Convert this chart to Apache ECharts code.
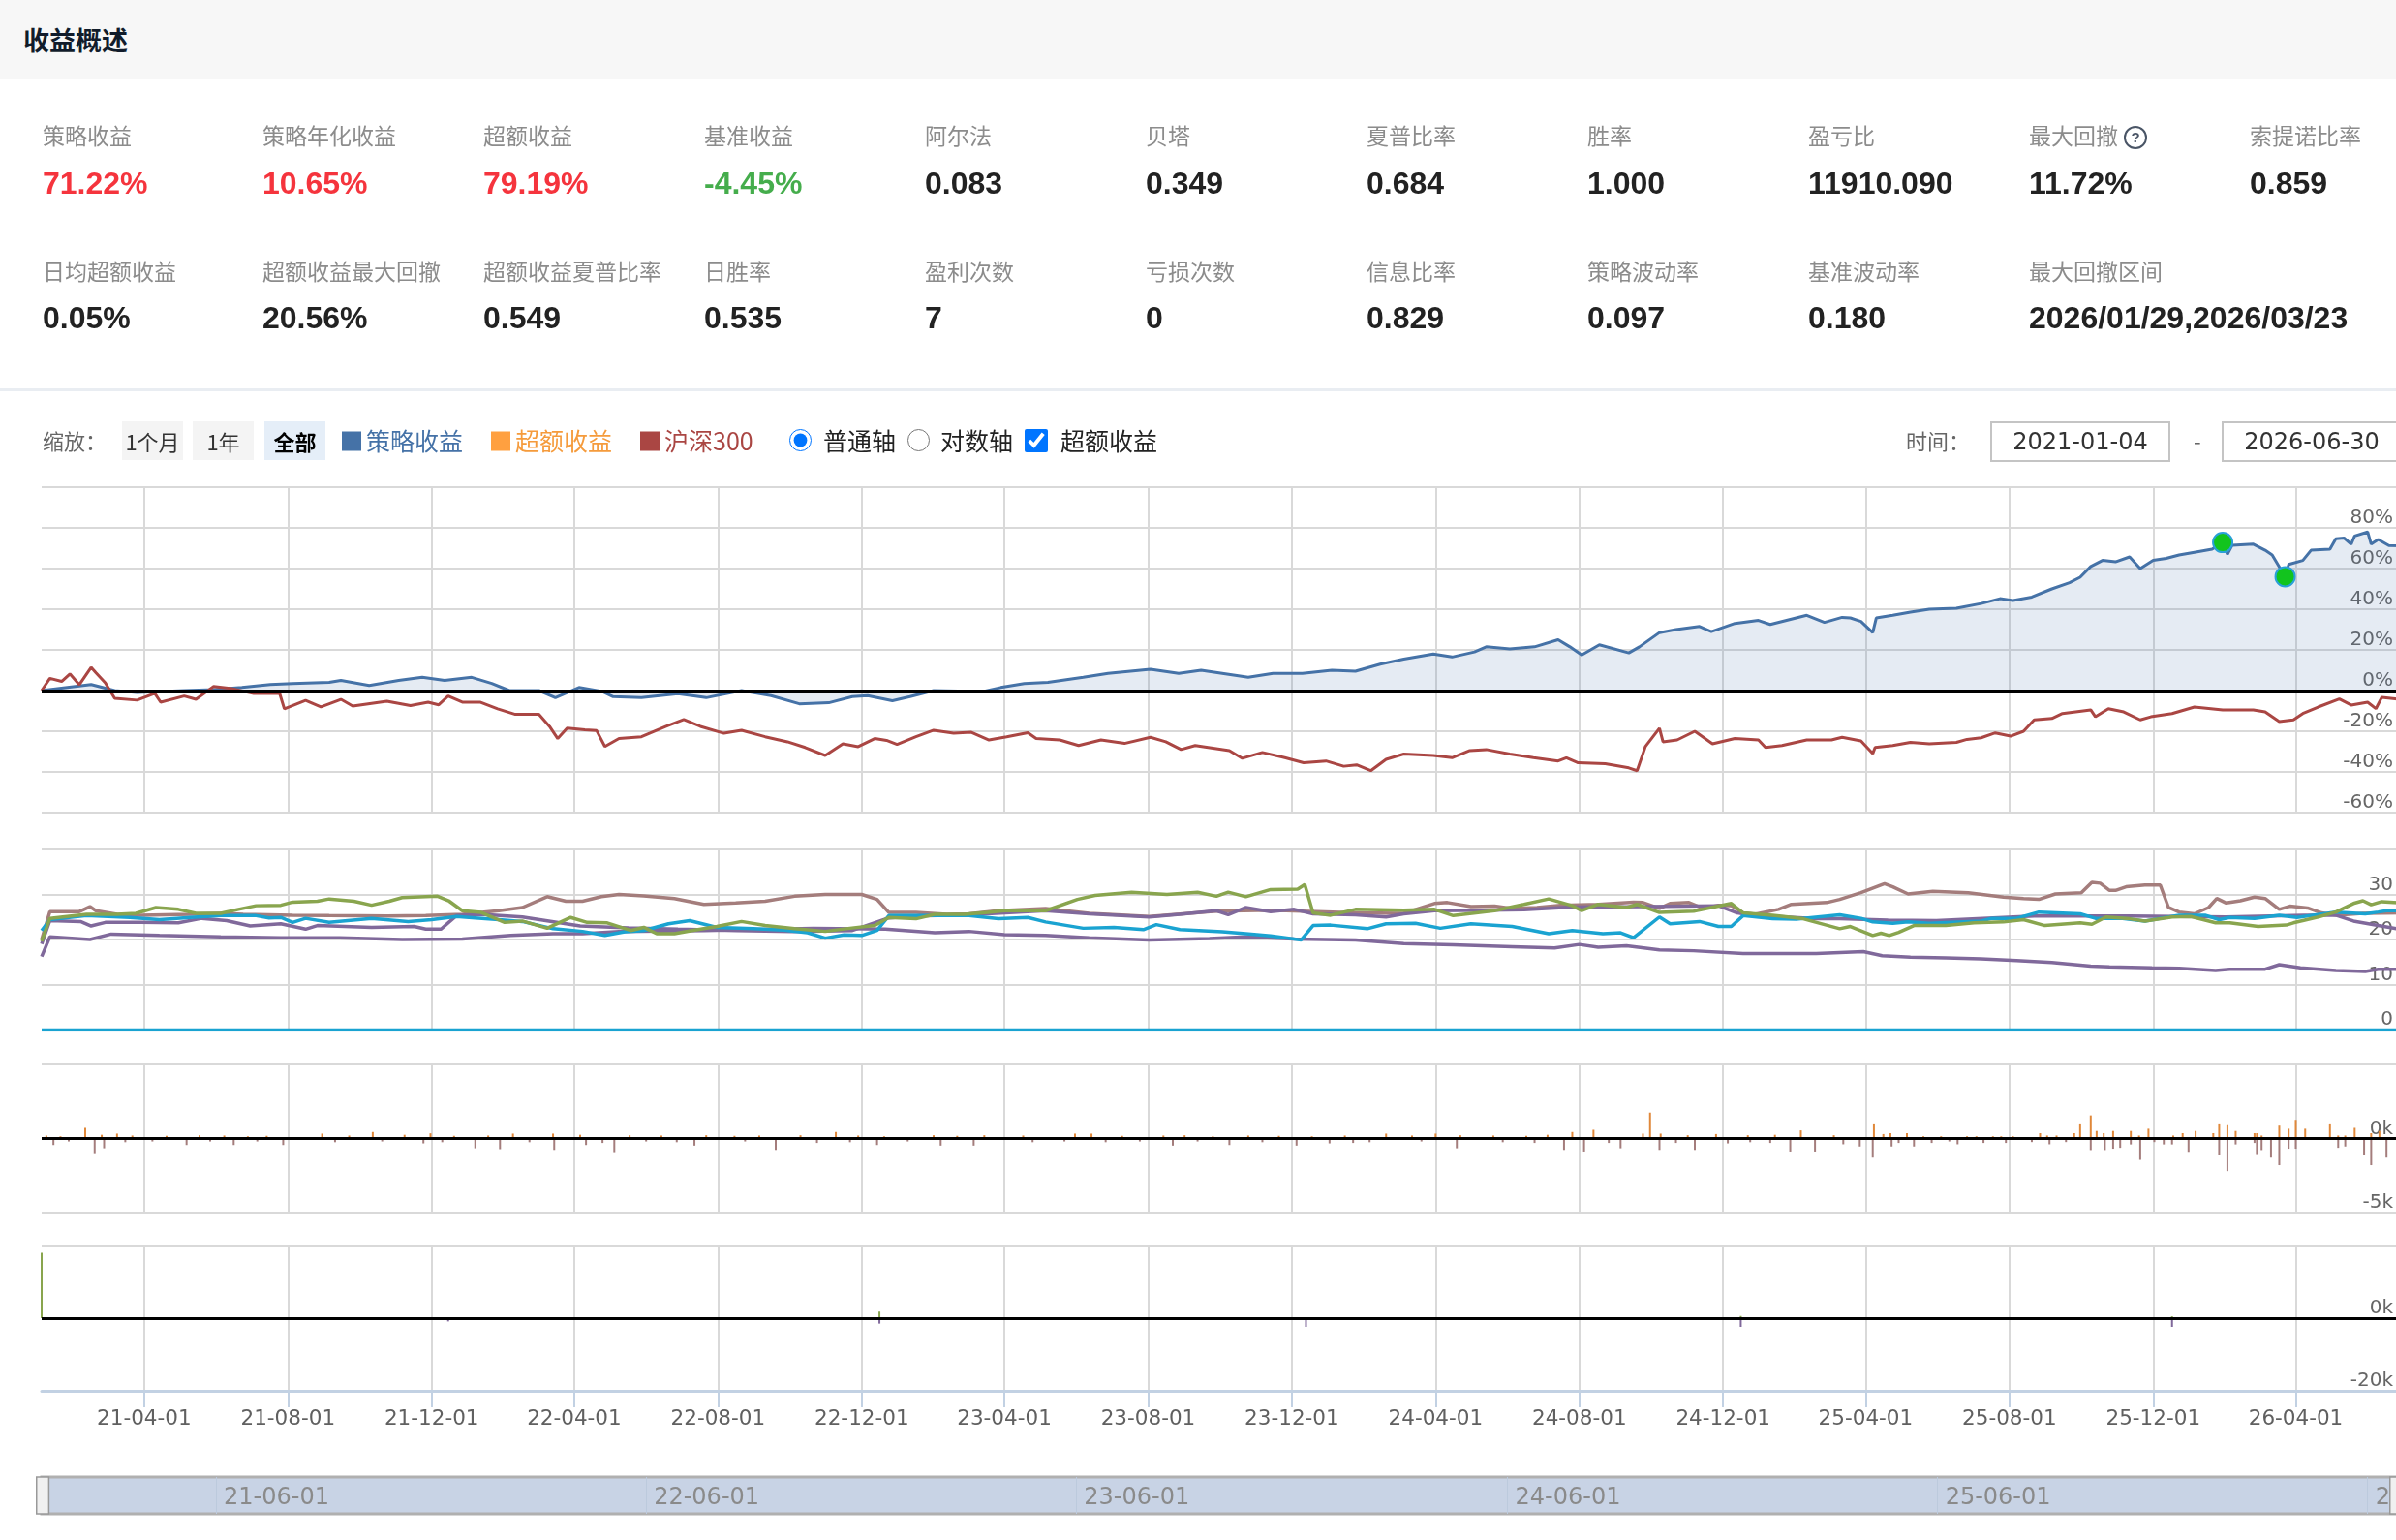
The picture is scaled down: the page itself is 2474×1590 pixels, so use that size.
<!DOCTYPE html>
<html>
<head>
<meta charset="utf-8">
<title>收益概述</title>
<script src="https://cdn.jsdelivr.net/npm/echarts@6/dist/echarts.min.js"></script>
<style>
html, body { margin: 0; padding: 0; width: 2474px; height: 1590px; overflow: hidden; background: #fff; }
body { position: relative; font-family: "Noto Sans CJK SC", "Liberation Sans", sans-serif; }
.abs { position: absolute; white-space: nowrap; }
#head { left: 0; top: 0; width: 2474px; height: 82px; background: #f7f7f7; }
#head span { position: absolute; left: 24px; top: 0; line-height: 82px; font-size: 27px; font-weight: bold; color: #111c2b; }
#sep { left: 0; top: 401px; width: 2474px; height: 3px; background: #e9edf2; }
.lab { font-size: 23px; line-height: 30px; color: #8c8c8c; }
.val { font-family: "Liberation Sans", sans-serif; font-weight: bold; font-size: 32px; line-height: 40px; color: #222; }
.qm { display: inline-block; width: 20px; height: 20px; border: 2px solid #4a5566; border-radius: 50%; font: bold 15px/20px "Liberation Sans"; text-align: center; color: #4a5566; margin-left: 6px; vertical-align: 2px; }
.tool { font-size: 22px; line-height: 40px; color: #666; }
.btn { top: 435px; height: 40px; line-height: 40px; text-align: center; font-size: 22px; color: #333; background: #f4f4f4; }
.btn.on { background: #e5eef8; color: #000; font-weight: bold; }
.opt { font-size: 25px; line-height: 40px; color: #222; top: 434px; }
.box { top: 435px; height: 38px; line-height: 38px; border: 2px solid #c4c4c4; text-align: center; font-family: "DejaVu Sans"; font-size: 24px; color: #333; }
input.ctl { position: absolute; margin: 0; }
#chart { position: absolute; left: 0; top: 0; width: 2480px; height: 1590px; }
</style>
</head>
<body>
<div id="head" class="abs"><span>收益概述</span></div>
<div id="chart"></div>
<div id="sep" class="abs"></div>
<div id="stats"></div>

<div class="abs tool" style="left:44px;top:434px;">缩放：</div>
<div class="abs btn" style="left:126px;width:63px;">1个月</div>
<div class="abs btn" style="left:199px;width:63px;">1年</div>
<div class="abs btn on" style="left:273px;width:63px;">全部</div>
<input class="ctl" type="radio" name="ax" checked style="left:815px;top:443px;width:23px;height:23px;">
<div class="abs opt" style="left:850px;">普通轴</div>
<input class="ctl" type="radio" name="ax" style="left:937px;top:443px;width:23px;height:23px;">
<div class="abs opt" style="left:971px;">对数轴</div>
<input class="ctl" type="checkbox" checked style="left:1058px;top:443px;width:24px;height:24px;">
<div class="abs opt" style="left:1095px;">超额收益</div>
<div class="abs tool" style="left:1968px;top:434px;">时间：</div>
<div class="abs box" style="left:2055px;width:182px;">2021-01-04</div>
<div class="abs tool" style="left:2265px;top:434px;">-</div>
<div class="abs box" style="left:2294px;width:182px;">2026-06-30</div>

<script>
// 统计指标
var statLabels1 = ['策略收益', '策略年化收益', '超额收益', '基准收益', '阿尔法', '贝塔', '夏普比率', '胜率', '盈亏比', '最大回撤', '索提诺比率'];
var statValues1 = ['71.22%', '10.65%', '79.19%', '-4.45%', '0.083', '0.349', '0.684', '1.000', '11910.090', '11.72%', '0.859'];
var statLabels2 = ['日均超额收益', '超额收益最大回撤', '超额收益夏普比率', '日胜率', '盈利次数', '亏损次数', '信息比率', '策略波动率', '基准波动率', '最大回撤区间'];
var statValues2 = ['0.05%', '20.56%', '0.549', '0.535', '7', '0', '0.829', '0.097', '0.180', '2026/01/29,2026/03/23'];

// 横轴刻度
var xTickDates = ['2021-04-01', '2021-08-01', '2021-12-01', '2022-04-01', '2022-08-01', '2022-12-01', '2023-04-01', '2023-08-01',
    '2023-12-01', '2024-04-01', '2024-08-01', '2024-12-01', '2025-04-01', '2025-08-01', '2025-12-01', '2026-04-01'];
var navTickDates = ['2021-06-01', '2022-06-01', '2023-06-01', '2024-06-01', '2025-06-01', '2026-06-01'];
var startDate = '2021-01-04';
var endDate = '2026-06-30';
var drawdownDates = ['2026-01-29', '2026-03-23'];

// 策略收益 (%)
var strategyRet = [
    ['2021-01-04', 0], ['2021-02-15', 3], ['2021-03-07', 0], ['2021-03-26', -1], ['2021-05-05', 0], ['2021-05-30', 0.5],
    ['2021-06-23', 1.5], ['2021-07-17', 3], ['2021-08-05', 3.5], ['2021-09-05', 4], ['2021-09-15', 5], ['2021-10-09', 2.5],
    ['2021-11-03', 5], ['2021-11-23', 6.5], ['2021-12-12', 5], ['2022-01-04', 6.5], ['2022-01-21', 3.5], ['2022-02-05', 0],
    ['2022-03-02', 0], ['2022-03-16', -3.5], ['2022-04-05', 1.5], ['2022-04-25', -0.5], ['2022-05-04', -3], ['2022-05-28', -3.5],
    ['2022-06-28', -1.5], ['2022-07-22', -3.5], ['2022-08-21', 0], ['2022-09-15', -2.5], ['2022-10-09', -6.5], ['2022-11-03', -6],
    ['2022-11-23', -3], ['2022-12-06', -2.5], ['2022-12-27', -5], ['2023-01-11', -3], ['2023-01-31', 0], ['2023-03-14', -0.5],
    ['2023-03-29', 1.5], ['2023-04-18', 3.5], ['2023-05-08', 4], ['2023-06-07', 6.5], ['2023-06-28', 8.5], ['2023-08-03', 10.5],
    ['2023-08-27', 8.5], ['2023-09-15', 10], ['2023-10-25', 6.5], ['2023-11-15', 8.5], ['2023-12-10', 8.5], ['2024-01-04', 10],
    ['2024-01-24', 9.5], ['2024-02-14', 13], ['2024-03-05', 15.5], ['2024-03-30', 18], ['2024-04-15', 16.5], ['2024-05-04', 19],
    ['2024-05-14', 21.5], ['2024-06-03', 20.5], ['2024-06-24', 21.5], ['2024-07-14', 25], ['2024-07-24', 21.5], ['2024-08-03', 17.5],
    ['2024-08-18', 22.5], ['2024-09-12', 18.5], ['2024-09-21', 21.5], ['2024-10-08', 28.5], ['2024-10-22', 30], ['2024-11-11', 31.5],
    ['2024-11-21', 29], ['2024-12-11', 33], ['2024-12-31', 34.5], ['2025-01-10', 32.5], ['2025-02-10', 37], ['2025-02-25', 33.5],
    ['2025-03-12', 36], ['2025-03-19', 35.7], ['2025-03-28', 34], ['2025-04-07', 28.5], ['2025-04-10', 35.7], ['2025-04-24', 37],
    ['2025-05-09', 38.6], ['2025-05-25', 40], ['2025-06-17', 40.5], ['2025-07-08', 42.8], ['2025-07-24', 45.2], ['2025-08-04', 44.3],
    ['2025-08-20', 46], ['2025-09-06', 50], ['2025-09-21', 53], ['2025-09-30', 55.7], ['2025-10-09', 61], ['2025-10-19', 64],
    ['2025-10-30', 63.3], ['2025-11-11', 65.7], ['2025-11-20', 60], ['2025-12-01', 64], ['2025-12-12', 65], ['2025-12-23', 66.7],
    ['2026-01-05', 68], ['2026-01-20', 69.5], ['2026-01-29', 72.8], ['2026-02-02', 67], ['2026-02-06', 71.4], ['2026-02-24', 72],
    ['2026-03-06', 69], ['2026-03-12', 66.7], ['2026-03-23', 56], ['2026-03-26', 62], ['2026-04-07', 64], ['2026-04-14', 69],
    ['2026-04-30', 69.5], ['2026-05-05', 74.6], ['2026-05-12', 75], ['2026-05-18', 72], ['2026-05-21', 76], ['2026-06-01', 78],
    ['2026-06-04', 72], ['2026-06-10', 74.3], ['2026-06-19', 71.3], ['2026-06-30', 71.22]
];

// 沪深300 (%)
var benchRet = [
    ['2021-01-04', 0], ['2021-01-11', 6], ['2021-01-21', 4.5], ['2021-01-28', 8.2], ['2021-02-05', 2.9], ['2021-02-15', 11.4],
    ['2021-02-19', 8.8], ['2021-02-27', 3.8], ['2021-03-07', -3.8], ['2021-03-26', -4.7], ['2021-04-10', -1.4], ['2021-04-15', -5.7],
    ['2021-05-05', -2.7], ['2021-05-15', -4.3], ['2021-05-30', 2], ['2021-06-13', 1.1], ['2021-07-03', -1.4], ['2021-07-25', -1.4],
    ['2021-07-29', -9], ['2021-08-16', -4.8], ['2021-08-29', -8], ['2021-09-15', -4.3], ['2021-09-25', -7.6], ['2021-10-24', -5.2],
    ['2021-11-13', -7.4], ['2021-11-28', -5.7], ['2021-12-07', -7], ['2021-12-15', -2.7], ['2021-12-27', -5.7], ['2022-01-11', -5.7],
    ['2022-01-26', -9], ['2022-02-10', -11.7], ['2022-03-02', -11.7], ['2022-03-11', -17.6], ['2022-03-18', -23.6], ['2022-03-26', -18.5],
    ['2022-04-10', -19.3], ['2022-04-20', -19.7], ['2022-04-27', -27.5], ['2022-05-09', -23.6], ['2022-05-28', -22.7], ['2022-06-18', -17.6],
    ['2022-07-03', -14.2], ['2022-07-17', -17.6], ['2022-08-06', -21], ['2022-08-21', -19.5], ['2022-09-10', -22.7], ['2022-09-29', -25.2],
    ['2022-10-14', -28], ['2022-10-31', -31.9], ['2022-11-15', -26.2], ['2022-11-28', -27.6], ['2022-12-12', -23.6], ['2022-12-22', -24.5],
    ['2022-12-31', -26.5], ['2023-01-16', -22.7], ['2023-01-31', -19.5], ['2023-02-17', -21], ['2023-03-04', -20.5], ['2023-03-19', -24.3],
    ['2023-04-03', -22.7], ['2023-04-21', -20.7], ['2023-04-28', -23.6], ['2023-05-18', -24.3], ['2023-06-03', -27], ['2023-06-22', -24.3],
    ['2023-07-12', -26], ['2023-08-03', -23], ['2023-08-16', -25.2], ['2023-08-29', -29], ['2023-09-10', -27], ['2023-10-09', -29.5],
    ['2023-10-20', -33.3], ['2023-11-06', -30.4], ['2023-11-25', -33], ['2023-12-11', -35.5], ['2023-12-30', -34.6], ['2024-01-14', -37.2],
    ['2024-01-25', -36.5], ['2024-02-06', -39.4], ['2024-02-19', -33.8], ['2024-03-05', -31.2], ['2024-03-30', -31.9], ['2024-04-15', -33],
    ['2024-04-30', -29.5], ['2024-05-14', -29], ['2024-06-03', -31.2], ['2024-06-23', -33], ['2024-07-14', -34.6], ['2024-07-21', -33],
    ['2024-07-31', -35.5], ['2024-08-23', -36], ['2024-09-12', -38], ['2024-09-19', -39.4], ['2024-09-26', -27.6], ['2024-10-08', -18.5],
    ['2024-10-11', -25.2], ['2024-10-23', -24.3], ['2024-11-07', -20], ['2024-11-22', -26.2], ['2024-12-11', -23.6], ['2024-12-31', -24.3],
    ['2025-01-06', -28], ['2025-01-20', -27], ['2025-02-10', -24.3], ['2025-03-03', -24.3], ['2025-03-12', -23], ['2025-03-28', -24.8],
    ['2025-04-07', -31], ['2025-04-09', -28], ['2025-04-24', -27], ['2025-05-09', -25.5], ['2025-05-25', -26.2], ['2025-06-17', -25.5],
    ['2025-06-26', -24], ['2025-07-08', -23.2], ['2025-07-20', -20.8], ['2025-08-02', -22.4], ['2025-08-13', -20], ['2025-08-22', -14.4],
    ['2025-09-06', -13.7], ['2025-09-15', -11.3], ['2025-10-09', -9.5], ['2025-10-13', -12.9], ['2025-10-24', -8.9], ['2025-11-06', -10.5],
    ['2025-11-20', -14.4], ['2025-11-29', -12.9], ['2025-12-17', -11.3], ['2026-01-05', -8.1], ['2026-01-29', -9.5], ['2026-02-24', -9.5],
    ['2026-03-06', -10.5], ['2026-03-18', -15.2], ['2026-03-30', -14.4], ['2026-04-07', -11.3], ['2026-04-20', -8.1], ['2026-05-08', -4.1],
    ['2026-05-18', -7.1], ['2026-06-01', -5.7], ['2026-06-08', -8.9], ['2026-06-13', -3.3], ['2026-06-30', -4.45]
];

// 第二栏：五条指标线
var lineBrown = [
    ['2021-01-04', 20], ['2021-01-11', 26.2], ['2021-02-05', 26.2], ['2021-02-14', 27.3], ['2021-02-19', 26.4], ['2021-03-09', 25.6],
    ['2021-03-29', 25.4], ['2021-05-10', 25.6], ['2021-06-05', 25.8], ['2021-06-24', 25.6], ['2021-08-05', 25.4], ['2021-09-05', 25.3],
    ['2021-10-24', 25.2], ['2021-11-26', 25.3], ['2021-12-27', 25.6], ['2022-01-27', 26.4], ['2022-02-16', 27.1], ['2022-03-09', 29.5],
    ['2022-03-25', 28.5], ['2022-04-08', 28.5], ['2022-04-24', 29.5], ['2022-05-09', 30], ['2022-05-30', 29.7], ['2022-06-25', 29.1],
    ['2022-07-20', 27.8], ['2022-08-16', 28.1], ['2022-09-10', 28.5], ['2022-10-05', 29.6], ['2022-10-31', 30], ['2022-12-01', 30],
    ['2022-12-14', 28.9], ['2022-12-24', 26], ['2023-01-16', 26], ['2023-02-11', 25.6], ['2023-03-02', 25.7], ['2023-03-27', 26.4],
    ['2023-05-06', 26.9], ['2023-06-12', 25.8], ['2023-08-02', 25.1], ['2023-09-28', 26.3], ['2023-11-13', 26.5], ['2024-01-24', 25.9],
    ['2024-03-05', 25.8], ['2024-03-31', 28], ['2024-04-11', 28.2], ['2024-05-01', 27.3], ['2024-05-21', 27.4], ['2024-06-05', 26.9],
    ['2024-06-26', 27.1], ['2024-07-16', 27.6], ['2024-08-17', 27.8], ['2024-09-16', 28.3], ['2024-09-24', 28.2], ['2024-10-08', 26.9],
    ['2024-10-17', 28], ['2024-11-02', 28.2], ['2024-11-14', 26.9], ['2024-11-27', 27.6], ['2024-12-08', 27.5], ['2024-12-18', 25.9],
    ['2024-12-28', 25.6], ['2025-01-17', 26.7], ['2025-01-28', 27.8], ['2025-02-27', 28.2], ['2025-03-10', 28.9], ['2025-03-28', 30.4],
    ['2025-04-17', 32.4], ['2025-04-24', 31.7], ['2025-05-07', 30.1], ['2025-05-28', 30.7], ['2025-06-27', 30.4], ['2025-07-27', 29.4],
    ['2025-08-13', 29.1], ['2025-08-26', 28.9], ['2025-09-09', 30.1], ['2025-10-01', 30.4], ['2025-10-10', 32.7], ['2025-10-17', 32.5],
    ['2025-10-25', 30.9], ['2025-10-30', 30.9], ['2025-11-08', 31.7], ['2025-11-24', 32.1], ['2025-12-07', 32.1], ['2025-12-14', 27.1],
    ['2025-12-23', 26.1], ['2026-01-05', 25.7], ['2026-01-17', 27.1], ['2026-01-24', 29.1], ['2026-02-01', 28.1], ['2026-02-13', 28.6],
    ['2026-02-25', 29.4], ['2026-03-06', 29.1], ['2026-03-18', 26.7], ['2026-03-27', 27.4], ['2026-04-11', 27], ['2026-04-23', 25.9],
    ['2026-05-05', 25.4], ['2026-05-28', 25.8], ['2026-06-30', 25.9]
];
var lineGreen = [
    ['2021-01-04', 19.6], ['2021-01-11', 24.7], ['2021-02-11', 25.6], ['2021-03-09', 25.6], ['2021-03-25', 25.8], ['2021-04-11', 27.1],
    ['2021-04-30', 26.7], ['2021-05-15', 25.8], ['2021-06-05', 25.8], ['2021-06-20', 26.7], ['2021-07-05', 27.5], ['2021-07-26', 27.6],
    ['2021-08-05', 28.3], ['2021-08-26', 28.5], ['2021-09-05', 29], ['2021-09-26', 28.5], ['2021-10-11', 27.6], ['2021-10-26', 28.5],
    ['2021-11-06', 29.3], ['2021-11-26', 29.5], ['2021-12-06', 29.6], ['2021-12-16', 28.5], ['2021-12-27', 26.4], ['2022-01-12', 26],
    ['2022-02-01', 23.8], ['2022-02-16', 24.1], ['2022-03-09', 22.5], ['2022-03-29', 24.9], ['2022-04-12', 23.8], ['2022-04-29', 23.7],
    ['2022-05-19', 22], ['2022-05-30', 22.7], ['2022-06-10', 21.3], ['2022-06-25', 21.3], ['2022-07-10', 22], ['2022-07-31', 22.9],
    ['2022-08-21', 24], ['2022-09-10', 23.1], ['2022-10-05', 22.4], ['2022-10-31', 21.8], ['2022-11-21', 22.5], ['2022-12-12', 23.1],
    ['2022-12-24', 24.9], ['2023-01-16', 24.6], ['2023-02-01', 25.6], ['2023-02-26', 25.6], ['2023-03-18', 26], ['2023-04-01', 26.4],
    ['2023-05-06', 26.4], ['2023-06-02', 28.9], ['2023-06-17', 29.8], ['2023-07-18', 30.5], ['2023-08-17', 30], ['2023-09-12', 30.5],
    ['2023-09-28', 29.6], ['2023-10-08', 30.5], ['2023-10-23', 29.5], ['2023-11-13', 31.1], ['2023-12-06', 31.2], ['2023-12-12', 32.2],
    ['2023-12-19', 25.9], ['2024-01-03', 25.4], ['2024-01-24', 26.7], ['2024-03-05', 26.5], ['2024-03-31', 26.7], ['2024-04-16', 25.3],
    ['2024-05-21', 26.4], ['2024-06-15', 27.8], ['2024-07-06', 29], ['2024-07-26', 27.5], ['2024-08-03', 26.4], ['2024-08-17', 27.8],
    ['2024-09-10', 27.1], ['2024-09-19', 27.8], ['2024-10-08', 26], ['2024-11-06', 26.3], ['2024-12-08', 28], ['2024-12-18', 25.9],
    ['2025-01-12', 25.4], ['2025-02-07', 24.6], ['2025-03-10', 22.4], ['2025-03-19', 22.9], ['2025-04-07', 20.9], ['2025-04-14', 21.4],
    ['2025-04-21', 20.9], ['2025-04-29', 21.6], ['2025-05-12', 23.1], ['2025-06-08', 23.1], ['2025-07-02', 23.7], ['2025-07-27', 23.9],
    ['2025-08-13', 24.4], ['2025-08-31', 23.1], ['2025-09-30', 23.7], ['2025-10-10', 23.4], ['2025-10-22', 25], ['2025-11-11', 24.6],
    ['2025-11-24', 24.1], ['2025-12-17', 25], ['2026-01-02', 25.1], ['2026-01-23', 23.7], ['2026-02-04', 23.7], ['2026-02-28', 22.9],
    ['2026-03-24', 23.2], ['2026-03-30', 23.7], ['2026-04-20', 25], ['2026-05-05', 26.1], ['2026-05-20', 28], ['2026-05-28', 28.6],
    ['2026-06-04', 27.7], ['2026-06-13', 28.4], ['2026-06-30', 28.1]
];
var lineCyan = [
    ['2021-01-04', 22], ['2021-01-11', 24.4], ['2021-02-11', 25.3], ['2021-03-20', 24.9], ['2021-04-14', 24.4], ['2021-05-10', 24.9],
    ['2021-06-05', 25.3], ['2021-07-05', 25.3], ['2021-07-16', 24.8], ['2021-07-26', 24.9], ['2021-08-05', 23.8], ['2021-08-16', 24.7],
    ['2021-09-05', 23.8], ['2021-10-11', 24.7], ['2021-11-11', 24], ['2021-12-01', 24.4], ['2021-12-22', 25.1], ['2022-01-07', 24.8],
    ['2022-01-27', 24.4], ['2022-02-16', 24], ['2022-03-14', 22.4], ['2022-04-08', 21.8], ['2022-04-27', 20.9], ['2022-05-14', 21.7],
    ['2022-05-30', 22], ['2022-06-20', 23.5], ['2022-07-08', 24.2], ['2022-07-31', 22.7], ['2022-08-31', 22.4], ['2022-09-26', 22.1],
    ['2022-10-16', 21.5], ['2022-10-31', 20.3], ['2022-11-16', 21], ['2022-12-01', 20.9], ['2022-12-14', 22], ['2022-12-24', 25.3],
    ['2023-01-16', 25.3], ['2023-02-11', 25.3], ['2023-03-02', 25.3], ['2023-03-27', 24.6], ['2023-04-21', 24.9], ['2023-05-06', 23.9],
    ['2023-06-07', 22.5], ['2023-07-03', 22.7], ['2023-07-28', 22.2], ['2023-08-08', 23.3], ['2023-08-28', 22.2], ['2023-10-03', 21.7],
    ['2023-10-23', 21.3], ['2023-11-13', 20.8], ['2023-12-09', 19.9], ['2023-12-19', 23.1], ['2024-01-03', 23.2], ['2024-02-03', 22.4],
    ['2024-02-19', 23.5], ['2024-03-15', 23.6], ['2024-04-05', 22.5], ['2024-05-01', 23.5], ['2024-06-05', 22.9], ['2024-07-06', 21.3],
    ['2024-07-26', 22], ['2024-08-21', 21.3], ['2024-09-05', 21.5], ['2024-09-16', 20.4], ['2024-10-08', 25], ['2024-10-17', 23.5],
    ['2024-11-11', 24], ['2024-11-27', 22.9], ['2024-12-08', 22.9], ['2024-12-18', 25.3], ['2025-01-12', 24.6], ['2025-02-01', 24.5],
    ['2025-03-10', 25.5], ['2025-03-28', 24.7], ['2025-04-07', 23.9], ['2025-04-24', 23.6], ['2025-05-07', 23.9], ['2025-05-25', 23.6],
    ['2025-07-08', 24.1], ['2025-07-17', 24.7], ['2025-08-07', 24.7], ['2025-08-26', 26.1], ['2025-09-30', 25.7], ['2025-10-13', 24.7],
    ['2025-11-05', 24.7], ['2025-11-24', 24.1], ['2025-12-23', 25.4], ['2026-01-14', 25.4], ['2026-01-26', 24.4], ['2026-02-04', 24.9],
    ['2026-02-25', 24.7], ['2026-03-18', 25.4], ['2026-04-02', 24.9], ['2026-05-05', 26.1], ['2026-05-30', 25.7], ['2026-06-10', 26.1],
    ['2026-06-17', 26.4], ['2026-06-30', 26.4]
];
var linePurpleUp = [
    ['2021-01-04', 19], ['2021-01-11', 24.2], ['2021-02-06', 24], ['2021-02-15', 23], ['2021-02-27', 23.8], ['2021-03-29', 23.8],
    ['2021-04-30', 23.7], ['2021-05-20', 24.7], ['2021-06-10', 24.2], ['2021-06-30', 23], ['2021-07-26', 23.5], ['2021-08-16', 22.3],
    ['2021-08-26', 23.1], ['2021-10-11', 22.7], ['2021-11-16', 22.9], ['2021-11-26', 22.3], ['2021-12-09', 22.3], ['2021-12-22', 25.3],
    ['2022-01-12', 25.6], ['2022-02-16', 25], ['2022-04-06', 23], ['2022-05-17', 22.6], ['2022-06-28', 22.3], ['2022-08-17', 22],
    ['2022-10-04', 21.8], ['2022-11-23', 22], ['2022-12-24', 24.8], ['2023-01-16', 25.2], ['2023-03-02', 25.5], ['2023-05-06', 26.4],
    ['2023-06-12', 25.7], ['2023-08-02', 25], ['2023-08-28', 25.6], ['2023-09-28', 26.4], ['2023-10-08', 25.5], ['2023-10-23', 27.1],
    ['2023-11-13', 26.2], ['2023-12-03', 26.7], ['2023-12-19', 25.7], ['2024-01-24', 25.5], ['2024-02-19', 25], ['2024-03-05', 25.7],
    ['2024-03-31', 26.4], ['2024-05-15', 26.5], ['2024-06-15', 26.6], ['2024-07-26', 27.2], ['2024-09-26', 27.3], ['2024-11-27', 27.5],
    ['2024-12-13', 25.9], ['2024-12-28', 25.3], ['2025-01-23', 25], ['2025-02-18', 24.6], ['2025-03-10', 24.6], ['2025-04-20', 24.3],
    ['2025-05-31', 24.2], ['2025-08-22', 25.2], ['2025-11-11', 25.2], ['2026-02-01', 25], ['2026-04-08', 25.4], ['2026-05-05', 25.4],
    ['2026-05-20', 24.1], ['2026-06-04', 23.4], ['2026-06-30', 22.2]
];
var linePurpleLow = [
    ['2021-01-04', 16.2], ['2021-01-11', 20.6], ['2021-02-14', 20], ['2021-03-04', 21.2], ['2021-04-14', 20.9], ['2021-06-05', 20.6],
    ['2021-07-26', 20.4], ['2021-09-14', 20.4], ['2021-11-06', 20], ['2021-12-27', 20.1], ['2022-02-06', 20.9], ['2022-03-14', 21.3],
    ['2022-04-08', 21.3], ['2022-05-09', 21.8], ['2022-07-20', 22], ['2022-10-21', 22.5], ['2022-12-21', 22.3], ['2023-02-01', 21.5],
    ['2023-03-02', 21.8], ['2023-04-01', 21.1], ['2023-05-06', 20.9], ['2023-06-12', 20.4], ['2023-08-02', 19.9], ['2023-09-22', 20.2],
    ['2023-10-23', 20.6], ['2023-12-03', 20.1], ['2024-01-24', 19.9], ['2024-03-05', 19.1], ['2024-04-16', 18.8], ['2024-06-05', 18.4],
    ['2024-07-11', 18.1], ['2024-08-01', 18.9], ['2024-08-17', 18.3], ['2024-09-10', 18.6], ['2024-10-08', 17.7], ['2024-11-06', 17.5],
    ['2024-12-18', 16.9], ['2025-02-18', 16.9], ['2025-03-30', 17.3], ['2025-04-15', 16.4], ['2025-05-09', 16.1], ['2025-06-08', 15.9],
    ['2025-07-08', 15.7], ['2025-08-07', 15.3], ['2025-09-06', 14.9], ['2025-10-09', 14.1], ['2025-10-25', 13.9], ['2025-11-30', 13.7],
    ['2025-12-23', 13.6], ['2026-01-23', 13.1], ['2026-02-04', 13.4], ['2026-03-06', 13.4], ['2026-03-18', 14.4], ['2026-04-05', 13.7],
    ['2026-05-05', 13.1], ['2026-05-30', 12.9], ['2026-06-10', 13.4], ['2026-06-30', 13.4]
];
var lineFlat = [['2021-01-04', 0], ['2026-06-30', 0]];

// 第三栏：每日超额（盈 / 亏）
var dailyGain = [
    ['2021-01-08', 200], ['2021-01-20', 150], ['2021-02-10', 720], ['2021-02-24', 250], ['2021-03-09', 330], ['2021-03-22', 200],
    ['2021-04-20', 180], ['2021-05-18', 220], ['2021-06-08', 200], ['2021-06-28', 150], ['2021-07-14', 180], ['2021-08-30', 330],
    ['2021-09-22', 200], ['2021-10-12', 440], ['2021-11-08', 250], ['2021-11-30', 350], ['2021-12-20', 180], ['2022-01-18', 200],
    ['2022-02-08', 330], ['2022-03-14', 330], ['2022-04-06', 250], ['2022-05-18', 220], ['2022-06-14', 200], ['2022-07-22', 220],
    ['2022-08-15', 180], ['2022-09-05', 200], ['2022-10-10', 220], ['2022-11-09', 440], ['2022-11-28', 200], ['2022-12-20', 150],
    ['2023-01-31', 220], ['2023-02-20', 180], ['2023-03-15', 220], ['2023-04-17', 200], ['2023-05-31', 330], ['2023-06-14', 330],
    ['2023-07-10', 180], ['2023-08-14', 200], ['2023-09-01', 220], ['2023-09-25', 150], ['2023-10-25', 200], ['2023-11-20', 180],
    ['2023-12-18', 150], ['2024-01-15', 200], ['2024-02-19', 330], ['2024-03-12', 200], ['2024-04-01', 330], ['2024-04-22', 220],
    ['2024-05-20', 200], ['2024-06-17', 180], ['2024-07-05', 250], ['2024-07-26', 440], ['2024-08-13', 590], ['2024-09-24', 330],
    ['2024-09-30', 1750], ['2024-10-09', 330], ['2024-11-01', 220], ['2024-11-25', 300], ['2024-12-22', 220], ['2025-01-14', 250],
    ['2025-02-05', 550], ['2025-03-05', 220], ['2025-04-08', 1020], ['2025-04-16', 300], ['2025-04-22', 360], ['2025-05-06', 360],
    ['2025-05-20', 150], ['2025-06-04', 150], ['2025-06-26', 150], ['2025-07-04', 150], ['2025-07-18', 150], ['2025-07-25', 150],
    ['2025-08-04', 150], ['2025-08-27', 360], ['2025-09-02', 200], ['2025-09-10', 200], ['2025-09-25', 360], ['2025-09-30', 1020],
    ['2025-10-09', 1560], ['2025-10-14', 510], ['2025-10-20', 360], ['2025-10-28', 510], ['2025-11-12', 510], ['2025-11-19', 200],
    ['2025-11-27', 660], ['2025-12-18', 200], ['2025-12-26', 360], ['2026-01-06', 510], ['2026-01-21', 360], ['2026-01-26', 1020],
    ['2026-02-02', 900], ['2026-02-09', 510], ['2026-02-25', 360], ['2026-02-27', 360], ['2026-03-03', 200], ['2026-03-18', 870],
    ['2026-03-26', 660], ['2026-04-01', 1260], ['2026-04-09', 660], ['2026-04-30', 1020], ['2026-05-07', 200], ['2026-05-13', 200],
    ['2026-05-21', 720], ['2026-06-04', 360], ['2026-06-11', 510]
];
var dailyLoss = [
    ['2021-01-14', -440], ['2021-01-27', -200], ['2021-02-18', -990], ['2021-02-26', -660], ['2021-03-16', -250], ['2021-04-08', -200],
    ['2021-05-07', -440], ['2021-05-27', -200], ['2021-06-16', -440], ['2021-07-06', -200], ['2021-07-28', -440], ['2021-09-10', -250],
    ['2021-10-20', -200], ['2021-11-24', -330], ['2021-12-10', -250], ['2022-01-07', -660], ['2022-01-28', -720], ['2022-02-22', -250],
    ['2022-03-15', -770], ['2022-04-11', -440], ['2022-04-25', -300], ['2022-05-05', -920], ['2022-06-01', -200], ['2022-06-27', -250],
    ['2022-07-12', -480], ['2022-08-24', -200], ['2022-09-19', -770], ['2022-10-24', -300], ['2022-11-21', -250], ['2022-12-14', -440],
    ['2023-01-09', -200], ['2023-02-06', -480], ['2023-03-06', -480], ['2023-04-25', -250], ['2023-05-22', -200], ['2023-06-26', -250],
    ['2023-07-25', -200], ['2023-08-22', -480], ['2023-09-12', -200], ['2023-10-09', -440], ['2023-11-06', -250], ['2023-12-05', -480],
    ['2024-01-02', -330], ['2024-01-22', -300], ['2024-02-05', -250], ['2024-03-20', -200], ['2024-04-19', -660], ['2024-05-28', -250],
    ['2024-06-24', -300], ['2024-07-19', -770], ['2024-08-05', -880], ['2024-08-26', -300], ['2024-09-05', -660], ['2024-10-08', -770],
    ['2024-10-22', -300], ['2024-11-07', -770], ['2024-12-05', -330], ['2024-12-24', -250], ['2025-01-10', -300], ['2025-01-27', -880],
    ['2025-02-17', -880], ['2025-03-13', -390], ['2025-03-27', -540], ['2025-04-07', -1290], ['2025-04-23', -540], ['2025-04-29', -300],
    ['2025-05-12', -540], ['2025-05-27', -300], ['2025-06-11', -200], ['2025-06-18', -390], ['2025-07-10', -300], ['2025-07-29', -300],
    ['2025-08-20', -240], ['2025-09-04', -390], ['2025-09-18', -240], ['2025-10-09', -780], ['2025-10-21', -780], ['2025-10-28', -690],
    ['2025-11-03', -630], ['2025-11-12', -400], ['2025-11-20', -1440], ['2025-12-02', -240], ['2025-12-10', -400], ['2025-12-17', -400],
    ['2025-12-31', -900], ['2026-01-26', -1080], ['2026-02-02', -2200], ['2026-02-09', -400], ['2026-02-25', -300], ['2026-02-27', -1050],
    ['2026-03-03', -780], ['2026-03-11', -1290], ['2026-03-18', -1800], ['2026-03-26', -690], ['2026-04-01', -690], ['2026-05-07', -630],
    ['2026-05-13', -540], ['2026-05-29', -1080], ['2026-06-04', -1800], ['2026-06-17', -1290]
];

// 第四栏：买入 / 卖出
var buyAmount = [['2021-01-04', 18000], ['2022-12-16', 1800], ['2024-12-16', 600], ['2025-12-17', 500]];
var sellAmount = [['2021-12-15', -900], ['2022-12-16', -1500], ['2023-12-13', -2400], ['2024-12-16', -2400], ['2025-12-17', -2400]];

// ---------- 统计区 ----------
var colX = [44, 271, 499, 727, 955, 1183, 1411, 1639, 1867, 2095, 2323];
var redIdx = [0, 1, 2];
function addStat(label, value, i, row) {
    var box = document.getElementById('stats');
    var l = document.createElement('div');
    l.className = 'abs lab';
    l.style.left = colX[i] + 'px';
    l.style.top = (row === 0 ? 124 : 264) + 'px';
    l.textContent = label;
    if (label === '最大回撤') {
        var q = document.createElement('span');
        q.className = 'qm';
        q.textContent = '?';
        l.appendChild(q);
    }
    var v = document.createElement('div');
    v.className = 'abs val';
    v.style.left = colX[i] + 'px';
    v.style.top = (row === 0 ? 169 : 308) + 'px';
    v.textContent = value;
    if (row === 0 && redIdx.indexOf(i) >= 0) v.style.color = '#f5343d';
    if (value.charAt(0) === '-') v.style.color = '#45ad4c';
    box.appendChild(l);
    box.appendChild(v);
}
statLabels1.forEach(function (s, i) { addStat(s, statValues1[i], i, 0); });
statLabels2.forEach(function (s, i) { addStat(s, statValues2[i], i, 1); });

// ---------- 图表 ----------
// 日期字符串 -> 本地时间戳
function ts(s) {
    var p = s.split('-');
    return new Date(+p[0], +p[1] - 1, +p[2]).getTime();
}
function toXY(arr) {
    return arr.map(function (p) { return [ts(p[0]), p[1]]; });
}
function fmtDay(v) {
    var d = new Date(v);
    var mm = ('0' + (d.getMonth() + 1)).slice(-2);
    var dd = ('0' + d.getDate()).slice(-2);
    return String(d.getFullYear()).slice(2) + '-' + mm + '-' + dd;
}
var axisFont = 'DejaVu Sans';
var gridColor = '#d9d9d9';
var xTicks = xTickDates.map(ts);
var navTicks = navTickDates.map(ts);

// outerBoundsMode: 'none' —— 不让 v6 为了装下标签而收缩网格
var grids = [
    { left: 43, right: 0, top: 503, height: 336, outerBoundsMode: 'none' },
    { left: 43, right: 0, top: 877, height: 186, outerBoundsMode: 'none' },
    { left: 43, right: 0, top: 1099, height: 153, outerBoundsMode: 'none' },
    { left: 43, right: 0, top: 1286, height: 150, outerBoundsMode: 'none' },
    { left: 43, right: 0, top: 1525, height: 38, outerBoundsMode: 'none', show: true, backgroundColor: '#c8d3e5', borderColor: '#b0b0b0', borderWidth: 3 }
];

function xAxisOf(i) {
    var last = i === 3;
    return {
        type: 'value',
        gridIndex: i,
        min: ts(startDate),
        max: ts(endDate),
        position: 'bottom',
        axisLine: { show: last, onZero: false, lineStyle: { color: '#c2d1e3', width: 3 } },
        axisTick: { show: last, customValues: xTicks, length: 17, lineStyle: { color: '#c2d1e3', width: 2 } },
        axisLabel: {
            show: last, customValues: xTicks, margin: 18, color: '#606060', fontSize: 21.5, fontFamily: axisFont,
            formatter: function (v) { return fmtDay(v); }
        },
        splitLine: { show: true, lineStyle: { color: gridColor, width: 2 } }
    };
}
function yAxisOf(i, min, max, interval, fmt) {
    return {
        type: 'value',
        gridIndex: i,
        position: 'right',
        min: min,
        max: max,
        interval: interval,
        axisLine: { show: false },
        axisTick: { show: false },
        axisLabel: {
            inside: true, showMaxLabel: false, verticalAlign: 'bottom', margin: 9,
            color: '#666', fontSize: 20, fontFamily: axisFont, formatter: fmt
        },
        splitLine: { show: true, lineStyle: { color: gridColor, width: 2 } }
    };
}

var zeroLine = {
    silent: true,
    symbol: ['none', 'none'],
    label: { show: false },
    emphasis: { disabled: true },
    lineStyle: { color: '#000', width: 3, type: 'solid' },
    data: [{ yAxis: 0 }]
};

var strategyXY = toXY(strategyRet);
var ddMarks = drawdownDates.map(function (d) {
    var t = ts(d);
    var p = strategyXY.filter(function (q) { return q[0] === t; })[0];
    return { coord: p };
});

function lineSeries(name, data, color, width, xi) {
    return {
        name: name, type: 'line', xAxisIndex: xi, yAxisIndex: xi, data: data,
        symbol: 'none', smooth: false, emphasis: { disabled: true },
        lineStyle: { color: color, width: width }, itemStyle: { color: color }
    };
}
function barSeries(name, data, color, xi) {
    return {
        name: name, type: 'bar', xAxisIndex: xi, yAxisIndex: xi, data: toXY(data),
        barWidth: 2, barGap: '-100%', emphasis: { disabled: true },
        itemStyle: { color: color }
    };
}

var sStrategy = lineSeries('策略收益', strategyXY, '#4572a7', 3, 0);
sStrategy.areaStyle = { color: 'rgba(69,114,167,0.2)' };
sStrategy.markPoint = {
    symbol: 'circle', symbolSize: 20, silent: true, label: { show: false },
    itemStyle: { color: '#12c41e', borderColor: '#2aa0d8', borderWidth: 2 },
    data: ddMarks
};
var sBench = lineSeries('沪深300', toXY(benchRet), '#aa4643', 3, 0);
sBench.markLine = zeroLine;

var sGain = barSeries('超额收益', dailyGain, '#e0883a', 2);
sGain.markLine = zeroLine;
var sBuy = barSeries('买入', buyAmount, '#89a54e', 3);
sBuy.markLine = zeroLine;

// 导航条里的隐形线，让导航轴和主轴同一范围
var sNav = lineSeries('导航', toXY(lineFlat), 'rgba(0,0,0,0)', 0, 4);
sNav.silent = true;

var option = {
    backgroundColor: 'transparent',
    animation: false,
    textStyle: { fontFamily: axisFont },
    legend: {
        left: 348,
        top: 438,
        itemWidth: 20,
        itemHeight: 20,
        itemGap: 29,
        icon: 'rect',
        textStyle: { fontSize: 25, fontFamily: 'Noto Sans CJK SC' },
        data: [
            { name: '策略收益', textStyle: { color: '#4572a7' } },
            { name: '超额收益', itemStyle: { color: '#ffa040' }, textStyle: { color: '#f59b3c' } },
            { name: '沪深300', textStyle: { color: '#aa4643' } }
        ]
    },
    grid: grids,
    xAxis: [
        xAxisOf(0), xAxisOf(1), xAxisOf(2), xAxisOf(3),
        {
            type: 'value', gridIndex: 4, min: ts(startDate), max: ts(endDate),
            axisLine: { show: false }, axisTick: { show: false, customValues: navTicks },
            axisLabel: {
                customValues: navTicks, inside: true, align: 'left', margin: 4, padding: [0, 0, 0, 8],
                color: '#8a8a8a', fontSize: 24, fontFamily: axisFont,
                formatter: function (v) { return fmtDay(v); }
            },
            splitLine: { show: true, lineStyle: { color: '#bccadd', width: 1 } }
        }
    ],
    yAxis: [
        yAxisOf(0, -60, 100, 20, function (v) { return v + '%'; }),
        yAxisOf(1, 0, 40, 10, function (v) { return String(v); }),
        yAxisOf(2, -5000, 5000, 5000, function (v) { return (v / 1000) + 'k'; }),
        yAxisOf(3, -20000, 20000, 20000, function (v) { return (v / 1000) + 'k'; }),
        { type: 'value', gridIndex: 4, min: 0, max: 1, show: false }
    ],
    dataZoom: [{
        type: 'slider',
        xAxisIndex: [0, 1, 2, 3],
        start: 0,
        end: 100,
        left: 42,
        width: 2432,
        top: 1525,
        height: 38,
        showDetail: false,
        showDataShadow: false,
        brushSelect: false,
        moveHandleSize: 0,
        backgroundColor: 'transparent',
        fillerColor: 'rgba(0,0,0,0)',
        borderColor: 'transparent',
        handleIcon: 'path://M0,0H12V36H0Z',
        handleSize: '100%',
        handleStyle: { color: '#f0f0f0', borderColor: '#999', borderWidth: 1.5 }
    }],
    series: [
        sStrategy,
        sBench,
        lineSeries('指标一', toXY(lineBrown), '#a47d7c', 3.5, 1),
        lineSeries('指标二', toXY(linePurpleUp), '#80699b', 3.5, 1),
        lineSeries('指标三', toXY(linePurpleLow), '#80699b', 3.5, 1),
        lineSeries('指标四', toXY(lineCyan), '#1aa3d1', 3.5, 1),
        lineSeries('指标五', toXY(lineGreen), '#89a54e', 3.5, 1),
        lineSeries('基线', toXY(lineFlat), '#1aa3d1', 2.5, 1),
        sGain,
        barSeries('亏损', dailyLoss, '#a47d7c', 2),
        sBuy,
        barSeries('卖出', sellAmount, '#80699b', 3),
        sNav
    ]
};

var myChart = echarts.init(document.getElementById('chart'));
myChart.setOption(option);
</script>
</body>
</html>
